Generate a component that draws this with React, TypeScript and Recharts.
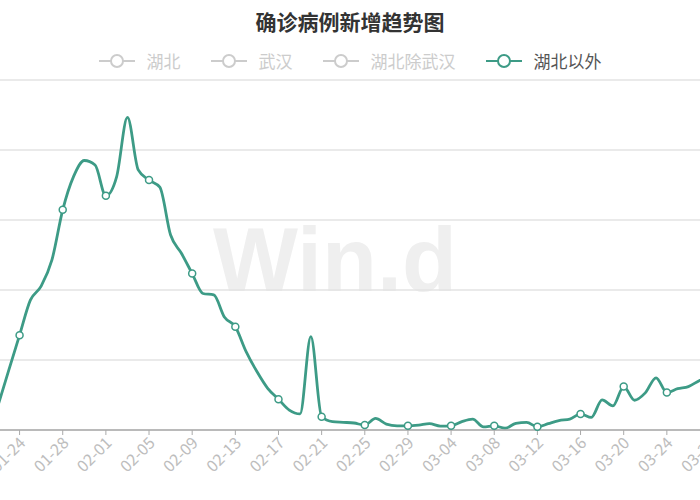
import React from 'react';
import {
  LineChart,
  Line,
  XAxis,
  YAxis,
  CartesianGrid,
} from 'recharts';

const dates = [
  '01-22', '01-23', '01-24', '01-25', '01-26', '01-27', '01-28', '01-29', '01-30', '01-31',
  '02-01', '02-02', '02-03', '02-04', '02-05', '02-06', '02-07', '02-08', '02-09', '02-10',
  '02-11', '02-12', '02-13', '02-14', '02-15', '02-16', '02-17', '02-18', '02-19', '02-20',
  '02-21', '02-22', '02-23', '02-24', '02-25', '02-26', '02-27', '02-28', '02-29', '03-01',
  '03-02', '03-03', '03-04', '03-05', '03-06', '03-07', '03-08', '03-09', '03-10', '03-11',
  '03-12', '03-13', '03-14', '03-15', '03-16', '03-17', '03-18', '03-19', '03-20', '03-21',
  '03-22', '03-23', '03-24', '03-25', '03-26', '03-27', '03-28',
];

// 湖北以外 daily new confirmed
const outsideHubei = [
  70, 171, 271, 371, 411, 486, 629, 724, 770, 757,
  669, 724, 893, 743, 714, 694, 557, 505, 447, 390,
  386, 322, 295, 224, 167, 119, 88, 57, 46, 267,
  38, 24, 22, 20, 14, 33, 17, 12, 12, 14,
  18, 11, 12, 24, 31, 9, 12, 5, 19, 22,
  9, 18, 27, 31, 46, 36, 86, 69, 124, 85,
  106, 149, 107, 118, 124, 141, 155,
];

const tickLabels = [
  '01-24', '01-28', '02-01', '02-05', '02-09', '02-13', '02-17', '02-21',
  '02-25', '02-29', '03-04', '03-08', '03-12', '03-16', '03-20', '03-24', '03-28',
];

const yTicks = [0, 200, 400, 600, 800, 1000];

const legendItems = [
  { name: '湖北', active: false },
  { name: '武汉', active: false },
  { name: '湖北除武汉', active: false },
  { name: '湖北以外', active: true },
];

const TEAL = '#3d9b86';
const FONT = '"Noto Sans CJK SC", "Noto Sans", sans-serif';

const chartData = dates.map((date, i) => ({ date, value: outsideHubei[i] }));

function DateTick({ x, y, payload }: any) {
  return (
    <text
      x={x + 3}
      y={y + 3}
      dy="0.35em"
      transform={`rotate(-45 ${x + 3} ${y + 3})`}
      textAnchor="end"
      fill="#bdbdbd"
      fontSize={16}
      fontFamily={FONT}
    >
      {payload.value}
    </text>
  );
}

function MarkerDot(props: any) {
  const { cx, cy, payload, index } = props;
  if (!tickLabels.includes(payload.date)) return <g key={index} />;
  return <circle key={index} cx={cx} cy={cy} r={3.5} fill="#fff" stroke={TEAL} strokeWidth={1.5} />;
}

function LegendIcon({ color }: { color: string }) {
  return (
    <svg width={36} height={16} style={{ display: 'block' }}>
      <line x1={0} y1={8} x2={36} y2={8} stroke={color} strokeWidth={2} />
      <circle cx={18} cy={8} r={6} fill="#fff" stroke={color} strokeWidth={2} />
    </svg>
  );
}

export default function App() {
  return (
    <div
      style={{
        position: 'absolute',
        left: 0,
        top: 0,
        width: 700,
        height: 500,
        overflow: 'hidden',
        background: '#fff',
        fontFamily: FONT,
      }}
    >
      <svg width={700} height={500} style={{ position: 'absolute', left: 0, top: 0 }}>
        <text
          x={335}
          y={291}
          textAnchor="middle"
          fontSize={90}
          fontWeight="bold"
          fill="#efefef"
          fontFamily='"Liberation Sans", Arial, sans-serif'
        >
          Win.d
        </text>
      </svg>

      <div style={{ position: 'absolute', left: -2, top: 0 }}>
        <LineChart
          width={712}
          height={500}
          data={chartData}
          margin={{ top: 80, right: 0, left: 0, bottom: 0 }}
        >
          <CartesianGrid vertical={false} stroke="#e3e3e3" strokeWidth={1.5} />
          <XAxis
            dataKey="date"
            ticks={tickLabels}
            interval={0}
            height={70}
            axisLine={{ stroke: '#aaaaaa', strokeWidth: 1.5 }}
            tickLine={{ stroke: '#aaaaaa' }}
            tickSize={5}
            tick={<DateTick />}
          />
          <YAxis hide domain={[0, 1000]} ticks={yTicks} />
          <Line
            type="monotone"
            dataKey="value"
            stroke={TEAL}
            strokeWidth={2.8}
            dot={MarkerDot}
            activeDot={false}
            isAnimationActive={false}
          />
        </LineChart>
      </div>

      <div
        style={{
          position: 'absolute',
          left: 0,
          top: 9,
          width: 700,
          textAlign: 'center',
          fontSize: 21,
          fontWeight: 'bold',
          color: '#333',
          lineHeight: '24px',
        }}
      >
        确诊病例新增趋势图
      </div>

      <div
        style={{
          position: 'absolute',
          left: 0,
          top: 50,
          width: 700,
          display: 'flex',
          justifyContent: 'center',
          alignItems: 'center',
          gap: 30,
          fontSize: 17,
          lineHeight: '22px',
        }}
      >
        {legendItems.map((item) => (
          <div key={item.name} style={{ display: 'flex', alignItems: 'center', gap: 12 }}>
            <LegendIcon color={item.active ? TEAL : '#cccccc'} />
            <span style={{ color: item.active ? '#555' : '#cccccc' }}>{item.name}</span>
          </div>
        ))}
      </div>
    </div>
  );
}
